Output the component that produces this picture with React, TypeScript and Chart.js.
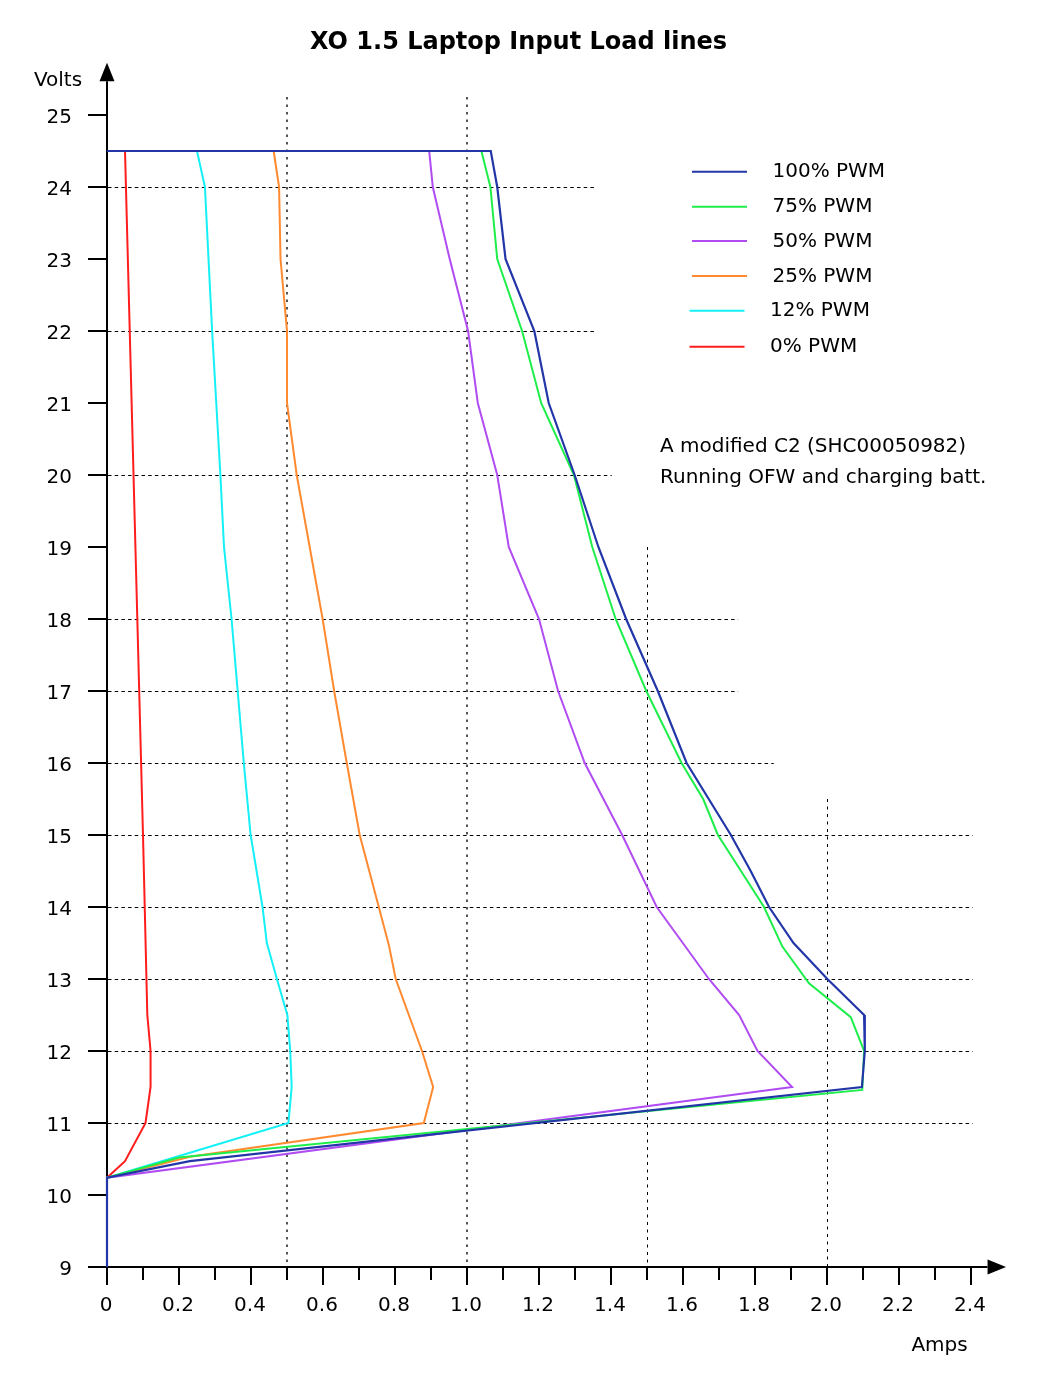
import React, { useEffect, useRef } from 'react';
import { Chart, registerables } from 'chart.js';

Chart.register(...registerables);

// ---------- data ----------
const seriesNames = ['100% PWM', '75% PWM', '50% PWM', '25% PWM', '12% PWM', '0% PWM'];

const amps100 = [0, 1.066, 1.084, 1.107, 1.187, 1.227, 1.299, 1.365, 1.442, 1.53, 1.61, 1.733, 1.788, 1.839, 1.907, 2.001, 2.103, 2.105, 2.097, 0.23, 0, 0];
const volts100 = [24.5, 24.5, 24, 23, 22, 21, 20, 19, 18, 17, 16, 15, 14.5, 14, 13.5, 13, 12.5, 12, 11.5, 10.47, 10.24, 9];

const amps75 = [0, 1.04, 1.065, 1.084, 1.153, 1.206, 1.297, 1.348, 1.413, 1.498, 1.596, 1.656, 1.697, 1.825, 1.876, 1.95, 2.066, 2.103, 2.098, 0.2, 0, 0];
const volts75 = [24.5, 24.5, 24, 23, 22, 21, 20, 19, 18, 17, 16, 15.5, 15, 14, 13.45, 12.94, 12.47, 12, 11.46, 10.52, 10.24, 9];

const amps50 = [0, 0.895, 0.905, 0.952, 1.003, 1.03, 1.084, 1.116, 1.2, 1.253, 1.327, 1.431, 1.527, 1.672, 1.756, 1.807, 1.903, 0, 0];
const volts50 = [24.5, 24.5, 24, 23, 22, 21, 20, 19, 18, 17, 16, 15, 14, 13, 12.5, 12, 11.5, 10.24, 9];

const amps25 = [0, 0.463, 0.478, 0.482, 0.5, 0.5, 0.527, 0.599, 0.631, 0.666, 0.702, 0.755, 0.783, 0.802, 0.875, 0.906, 0.88, 0.23, 0, 0];
const volts25 = [24.5, 24.5, 24, 23, 22, 21, 20, 18, 17, 16, 15, 14, 13.47, 13, 12, 11.5, 11, 10.53, 10.24, 9];

const amps12 = [0, 0.25, 0.272, 0.292, 0.315, 0.325, 0.346, 0.363, 0.38, 0.399, 0.432, 0.444, 0.472, 0.501, 0.509, 0.513, 0.504, 0, 0];
const volts12 = [24.5, 24.5, 24, 22, 20, 19, 18, 17, 16, 15, 14, 13.5, 13, 12.5, 12, 11.5, 11, 10.24, 9];

const amps0 = [0, 0.05, 0.1, 0.112, 0.121, 0.121, 0.107, 0.05, 0, 0];
const volts0 = [24.5, 24.5, 15, 12.5, 12, 11.5, 11, 10.47, 10.24, 9];

const seriesAmps = [amps100, amps75, amps50, amps25, amps12, amps0];
const seriesVolts = [volts100, volts75, volts50, volts25, volts12, volts0];

// grid lines (value, extent)
const hGridVolts = [24, 22, 20, 18, 17, 16, 15, 14, 13, 12, 11];
const hGridEndAmps = [1.355, 1.355, 1.402, 1.753, 1.753, 1.852, 2.405, 2.405, 2.405, 2.405, 2.405];
const vGridAmps = [0.5, 1.0, 1.5, 2.0];
const vGridTopVolts = [25.25, 25.25, 19.0, 15.5];

const xTickValues = Array.from({ length: 25 }, (_, i) => i / 10);
const xTickLabels = ['0', '0.2', '0.4', '0.6', '0.8', '1.0', '1.2', '1.4', '1.6', '1.8', '2.0', '2.2', '2.4'];
const yTickValues = [9, 10, 11, 12, 13, 14, 15, 16, 17, 18, 19, 20, 21, 22, 23, 24, 25];

const titleText = 'XO 1.5 Laptop Input Load lines';
const yAxisTitle = 'Volts';
const xAxisTitle = 'Amps';
const noteLines = ['A modified C2 (SHC00050982)', 'Running OFW and charging batt.'];

// ---------- styles ----------
const seriesColors = ['#2236a8', '#1eee4a', '#b04cf2', '#ff8a30', '#14f0f6', '#ff1c1c'];
const seriesWidths = [2.2, 2, 2, 2, 2, 2];
const FONT = '"DejaVu Sans", Verdana, sans-serif';

const axesPlugin = {
  id: 'handAxes',
  beforeDatasetsDraw(chart: any) {
    const { ctx } = chart;
    const xs = chart.scales.x;
    const ys = chart.scales.y;
    const x0 = xs.getPixelForValue(0);
    const y0 = ys.getPixelForValue(9);
    const xEnd = xs.getPixelForValue(2.446);
    const yEnd = ys.getPixelForValue(25.47);
    ctx.save();

    // grid lines (pixel-snapped)
    ctx.strokeStyle = '#000';
    ctx.lineWidth = 1;
    ctx.setLineDash([3.5, 3.2]);
    hGridVolts.forEach((v, i) => {
      const py = Math.round(ys.getPixelForValue(v)) + 0.5;
      ctx.beginPath();
      ctx.moveTo(x0 + 1, py);
      ctx.lineTo(xs.getPixelForValue(hGridEndAmps[i]), py);
      ctx.stroke();
    });
    vGridAmps.forEach((a, i) => {
      const soft = a < 1.25;
      const px = Math.round(xs.getPixelForValue(a)) + (soft ? 0 : 0.5);
      ctx.strokeStyle = soft ? '#555' : '#000';
      ctx.lineWidth = soft ? 2 : 1;
      ctx.setLineDash(soft ? [2.5, 5] : [3, 4.5]);
      ctx.beginPath();
      ctx.moveTo(px, ys.getPixelForValue(vGridTopVolts[i]));
      ctx.lineTo(px, y0);
      ctx.stroke();
    });

    ctx.strokeStyle = '#000';
    ctx.fillStyle = '#000';
    ctx.lineWidth = 2;
    ctx.setLineDash([]);
    // axes
    ctx.beginPath();
    ctx.moveTo(x0, y0);
    ctx.lineTo(x0, yEnd);
    ctx.moveTo(x0, y0);
    ctx.lineTo(xEnd, y0);
    ctx.stroke();
    // arrows
    ctx.beginPath();
    ctx.moveTo(x0 - 7.5, yEnd);
    ctx.lineTo(x0 + 7.5, yEnd);
    ctx.lineTo(x0, yEnd - 18.5);
    ctx.closePath();
    ctx.fill();
    ctx.beginPath();
    ctx.moveTo(xEnd, y0 - 7.5);
    ctx.lineTo(xEnd, y0 + 7.5);
    ctx.lineTo(xEnd + 18.5, y0);
    ctx.closePath();
    ctx.fill();
    // x ticks
    ctx.beginPath();
    xTickValues.forEach((v, i) => {
      const px = Math.round(xs.getPixelForValue(v));
      const len = i % 2 === 0 ? 18 : 13;
      ctx.moveTo(px, y0);
      ctx.lineTo(px, y0 + len);
    });
    // y ticks
    yTickValues.forEach((v) => {
      const py = Math.round(ys.getPixelForValue(v));
      ctx.moveTo(x0 - 19, py);
      ctx.lineTo(x0, py);
    });
    ctx.stroke();

    // labels
    ctx.font = '20px ' + FONT;
    ctx.textBaseline = 'alphabetic';
    ctx.textAlign = 'center';
    xTickLabels.forEach((t, i) => {
      const px = xs.getPixelForValue(i * 0.2);
      ctx.fillText(t, px - 1, y0 + 44);
    });
    ctx.textAlign = 'right';
    yTickValues.forEach((v) => {
      const py = ys.getPixelForValue(v);
      ctx.fillText(String(v), x0 - 35, py + 7.5);
    });
    ctx.textAlign = 'center';
    ctx.fillText(yAxisTitle, 58, yEnd + 4.5);
    ctx.fillText(xAxisTitle, xEnd - 48, y0 + 84);

    // title
    ctx.font = 'bold 24px ' + FONT;
    ctx.fillText(titleText, 518.5, 49);

    // legend
    ctx.font = '20px ' + FONT;
    ctx.textAlign = 'left';
    const rows = [171.7, 206.7, 241, 276, 310.7, 346.7];
    seriesNames.forEach((name, i) => {
      const shift = i >= 4 ? -2.5 : 0;
      ctx.strokeStyle = seriesColors[i];
      ctx.lineWidth = 2;
      ctx.beginPath();
      ctx.moveTo(692 + shift, rows[i]);
      ctx.lineTo(747 + shift, rows[i]);
      ctx.stroke();
      ctx.fillStyle = '#000';
      ctx.fillText(name, 772.5 + shift, rows[i] + 5.6);
    });
    // note
    ctx.fillText(noteLines[0], 660, 451.5);
    ctx.fillText(noteLines[1], 660, 483.3);
    ctx.restore();
  },
};

export default function App() {
  const ref = useRef<HTMLCanvasElement>(null);
  useEffect(() => {
    if (!ref.current) return;
    const datasets: any[] = seriesNames.map((name, i) => ({
      label: name,
      data: seriesAmps[i].map((a, j) => ({ x: a, y: seriesVolts[i][j] })),
      showLine: true,
      borderColor: seriesColors[i],
      backgroundColor: seriesColors[i],
      borderWidth: seriesWidths[i],
      pointRadius: 0,
      fill: false,
      tension: 0,
      clip: false,
    }));
    const chart = new Chart(ref.current, {
      type: 'scatter',
      data: { datasets },
      options: {
        animation: false,
        responsive: false,
        events: [],
        layout: { padding: { left: 107, right: 84, top: 115, bottom: 114 } },
        scales: {
          x: { type: 'linear', min: 0, max: 2.4, display: false },
          y: { type: 'linear', min: 9, max: 25, display: false },
        },
        plugins: {
          legend: { display: false },
          tooltip: { enabled: false },
          title: { display: false },
        },
      },
      plugins: [axesPlugin],
    });
    return () => chart.destroy();
  }, []);
  return (
    <div style={{ position: 'absolute', left: 0, top: 0, width: 1055, height: 1381, background: '#fff' }}>
      <canvas ref={ref} width={1055} height={1381} style={{ width: 1055, height: 1381 }} />
    </div>
  );
}
